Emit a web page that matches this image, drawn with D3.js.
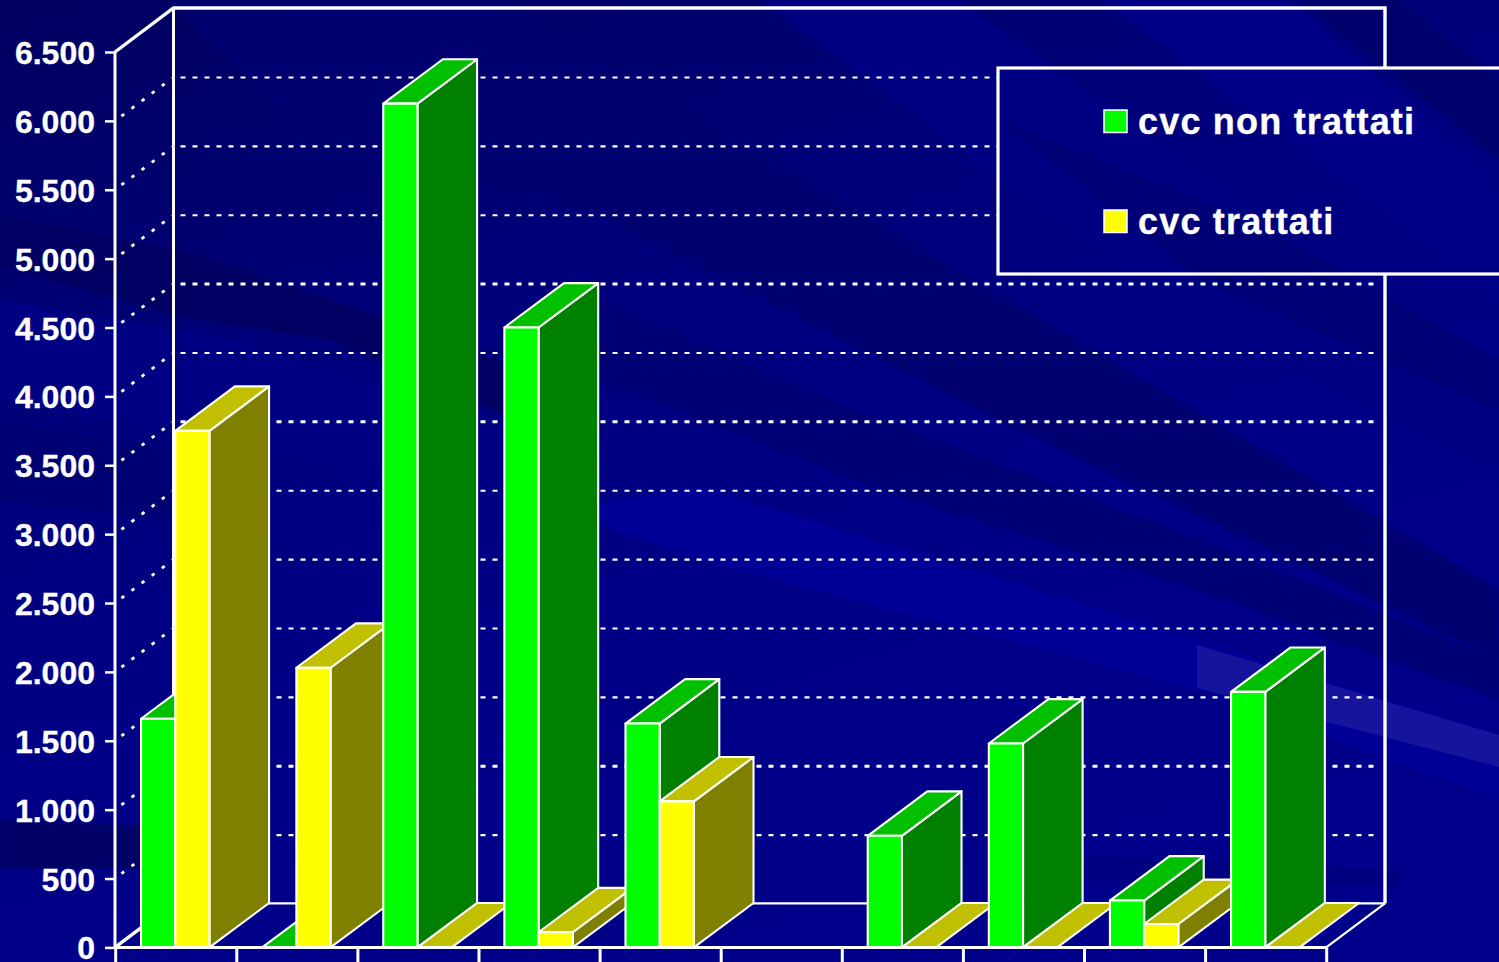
<!DOCTYPE html>
<html><head><meta charset="utf-8">
<script src="https://cdn.jsdelivr.net/npm/d3@7/dist/d3.min.js"></script>
<style>html,body{margin:0;padding:0;background:#000088;overflow:hidden}svg{display:block}
text{font-family:"Liberation Sans",Arial,sans-serif;font-weight:bold;fill:#fff;stroke:#fff;stroke-width:.35px}</style></head>
<body><svg id="c" width="1499" height="962"></svg>
<script>
// ---- data ----
const categories = ["1","2","3","4","5","6","7","8","9","10"];
const seriesNames = ["cvc non trattati","cvc trattati"];
const untreated = [1660,0,6125,4500,1625,null,810,1480,340,1855];
const treated   = [3750,2030,0,110,1060,null,0,0,170,0];
const yTicks = [0,500,1000,1500,2000,2500,3000,3500,4000,4500,5000,5500,6000,6500];
const heavierGrid = [1000,3500,4500];

// ---- styles ----
const faces = [{front:"#00ff00",side:"#008000",top:"#00c000"},{front:"#ffff00",side:"#808000",top:"#c0c000"}];
const depth = {dx:58.5,dy:-44};
const barDepth = {dx:59.6,dy:-44.4};

const svg = d3.select("#c");
const defs = svg.append("defs");
const grad = defs.append("linearGradient").attr("id","bgGrad").attr("x1",0).attr("y1",0).attr("x2",.45).attr("y2",1);
[[0,"#000060"],[.2,"#00006e"],[.4,"#00007c"],[.65,"#000086"],[1,"#00008a"]].forEach(s=>grad.append("stop").attr("offset",s[0]).attr("stop-color",s[1]));
defs.append("filter").attr("id","soft").append("feGaussianBlur").attr("stdDeviation",1);

const bgG = defs.append("g").attr("id","bg");
bgG.append("rect").attr("width",1499).attr("height",962).attr("fill","url(#bgGrad)");
const streaks = [
 // brighter
 ["#000086","1100,0 1290,0 1499,180 1499,300"],
 ["#000082","760,0 960,0 1499,380 1499,470 1200,330"],
 ["#000096","700,487 1200,640 1499,735 1499,800 1200,690 700,560 560,510"],
 ["#000082","0,300 240,340 700,487 560,510 0,400"],
 // darker
 ["#000070","170,0 500,0 1499,590 1499,660 1000,420 600,215 300,130"],
 ["#000074","600,300 830,400 1200,540 1499,660 1499,700 1200,590 880,490 600,380"],
 ["#000064","0,215 200,255 420,330 600,400 600,455 330,340 170,315 0,265"],
 ["#000076","1000,120 1250,220 1499,360 1499,410 1200,280"],
 ["#00006c","1300,0 1400,0 1499,80 1499,160"],
 ["#000066","0,820 140,825 140,868 0,868"],
 ["#000080","1060,855 1400,870 1400,885 1060,880"],
 ["#000072","0,420 170,450 170,520 0,500"]
];
const sg = bgG.append("g").attr("filter","url(#soft)");
streaks.forEach(s=>sg.append("polygon").attr("points",s[1]).attr("fill",s[0]));
bgG.append("polygon").attr("points","1197,645 1499,735 1499,767 1197,688").attr("fill","#14149c");

svg.append("use").attr("href","#bg");

// ---- scales ----
const x = d3.scaleBand().domain(categories).range([115,1325.5]).paddingInner(.435).paddingOuter(.215);
const xSeries = d3.scaleBand().domain(seriesNames).range([0,x.bandwidth()]);
const y = d3.scaleLinear().domain([0,6500]).range([947.4,52]);
const fmt = d3.formatLocale({decimal:",",thousands:".",grouping:[3],currency:["",""]}).format(",");
const xEdges = d3.scaleLinear().domain([0,10]).range([115.2,1326.2]);
const W = "#fff";

// ---- walls ----
const wall = svg.append("g").attr("fill","none").attr("stroke",W);
const gx0 = 115+depth.dx, gx1 = xEdges(10)+depth.dx+.3;
yTicks.filter(v=>v>0&&v<6500).forEach(v=>{
  const yy=y(v), heavy=heavierGrid.includes(v);
  wall.append("line").attr("x1",gx0+7).attr("x2",gx1-5).attr("y1",yy+depth.dy+.6).attr("y2",yy+depth.dy+.6)
    .attr("stroke-width",heavy?3:2.2).attr("stroke-dasharray","5 7");
  wall.append("line").attr("x1",115).attr("x2",gx0-1).attr("y1",yy).attr("y2",yy+depth.dy*(57/58.5))
    .attr("stroke-width",2.8).attr("stroke-dasharray","0 8 3.5 9.1 3.5 9.1 3.5 9.1 3.5 9.1 3.5 9.1 2");
});
wall.append("path").attr("stroke-width",3.4).attr("d",`M${115},${y(6500)}L${gx0},${y(6500)+depth.dy}H${gx1}V${y(0)+depth.dy}`);
wall.append("line").attr("x1",gx0).attr("x2",gx0).attr("y1",y(6500)+depth.dy).attr("y2",y(0)+depth.dy).attr("stroke-width",3);
wall.append("line").attr("x1",gx0).attr("x2",gx1).attr("y1",y(0)+depth.dy).attr("y2",y(0)+depth.dy).attr("stroke-width",2.4);
wall.append("line").attr("x1",115).attr("x2",gx0).attr("y1",y(0)).attr("y2",y(0)+depth.dy).attr("stroke-width",3.4);
wall.append("line").attr("x1",xEdges(10)).attr("x2",gx1).attr("y1",y(0)).attr("y2",y(0)+depth.dy).attr("stroke-width",2.2);

// ---- bars ----
const barsG = svg.append("g").attr("stroke",W).attr("stroke-width",2.1).attr("stroke-linejoin","round");
const P = a => a.map(p=>p.join(",")).join(" ");
categories.forEach((c,i)=>{
  [untreated,treated].forEach((vals,s)=>{
    const v=vals[i]; if(v==null) return;
    const x0=x(c)+xSeries(seriesNames[s]), x1=x0+xSeries.bandwidth(), yt=y(v), yb=y(0), f=faces[s], {dx,dy}=barDepth;
    const g=barsG.append("g");
    if(v>0) g.append("polygon").attr("fill",f.side).attr("points",P([[x1,yb],[x1+dx,yb+dy],[x1+dx,yt+dy],[x1,yt]]));
    g.append("polygon").attr("fill",f.top).attr("points",P([[x0,yt],[x0+dx,yt+dy],[x1+dx,yt+dy],[x1,yt]]));
    if(v>0) g.append("rect").attr("fill",f.front).attr("x",x0).attr("y",yt).attr("width",x1-x0).attr("height",yb-yt);
  });
});

// ---- axes ----
const ax = svg.append("g").attr("transform","translate(115,0)").call(d3.axisLeft(y).tickValues(yTicks).tickSize(10).tickPadding(10).tickFormat(fmt));
ax.selectAll("path,line").attr("stroke",W).attr("stroke-width",3);
ax.select(".domain").attr("d",`M0,${y(6500)}V${y(0)}`);
ax.selectAll("line").attr("stroke-width",2.5);
ax.selectAll("text").attr("font-size",32).attr("dy",0).attr("y",11.5).style("fill",W);

const bx = svg.append("g").attr("transform",`translate(0,${y(0)})`).call(d3.axisBottom(xEdges).ticks(10).tickSize(18).tickFormat(""));
bx.selectAll("path,line").attr("stroke",W).attr("stroke-width",3);
bx.select(".domain").attr("d",`M115,0H${xEdges(10)}`);

// ---- legend ----
const lg = svg.append("g");
const clip = defs.append("clipPath").attr("id","lgClip");
clip.append("rect").attr("x",998).attr("y",68).attr("width",520).attr("height",206);
lg.append("use").attr("href","#bg").attr("clip-path","url(#lgClip)");
lg.append("rect").attr("x",998).attr("y",68).attr("width",520).attr("height",206).attr("fill","none").attr("stroke",W).attr("stroke-width",3.2);
seriesNames.forEach((n,i)=>{
  lg.append("rect").attr("x",1104).attr("y",110+i*100).attr("width",23).attr("height",22.5).attr("fill",faces[i].front).attr("stroke",W).attr("stroke-width",1.5);
  lg.append("text").attr("x",1138).attr("y",134+i*100).attr("font-size",36).attr("letter-spacing",1.2).text(n);
});
</script></body></html>
